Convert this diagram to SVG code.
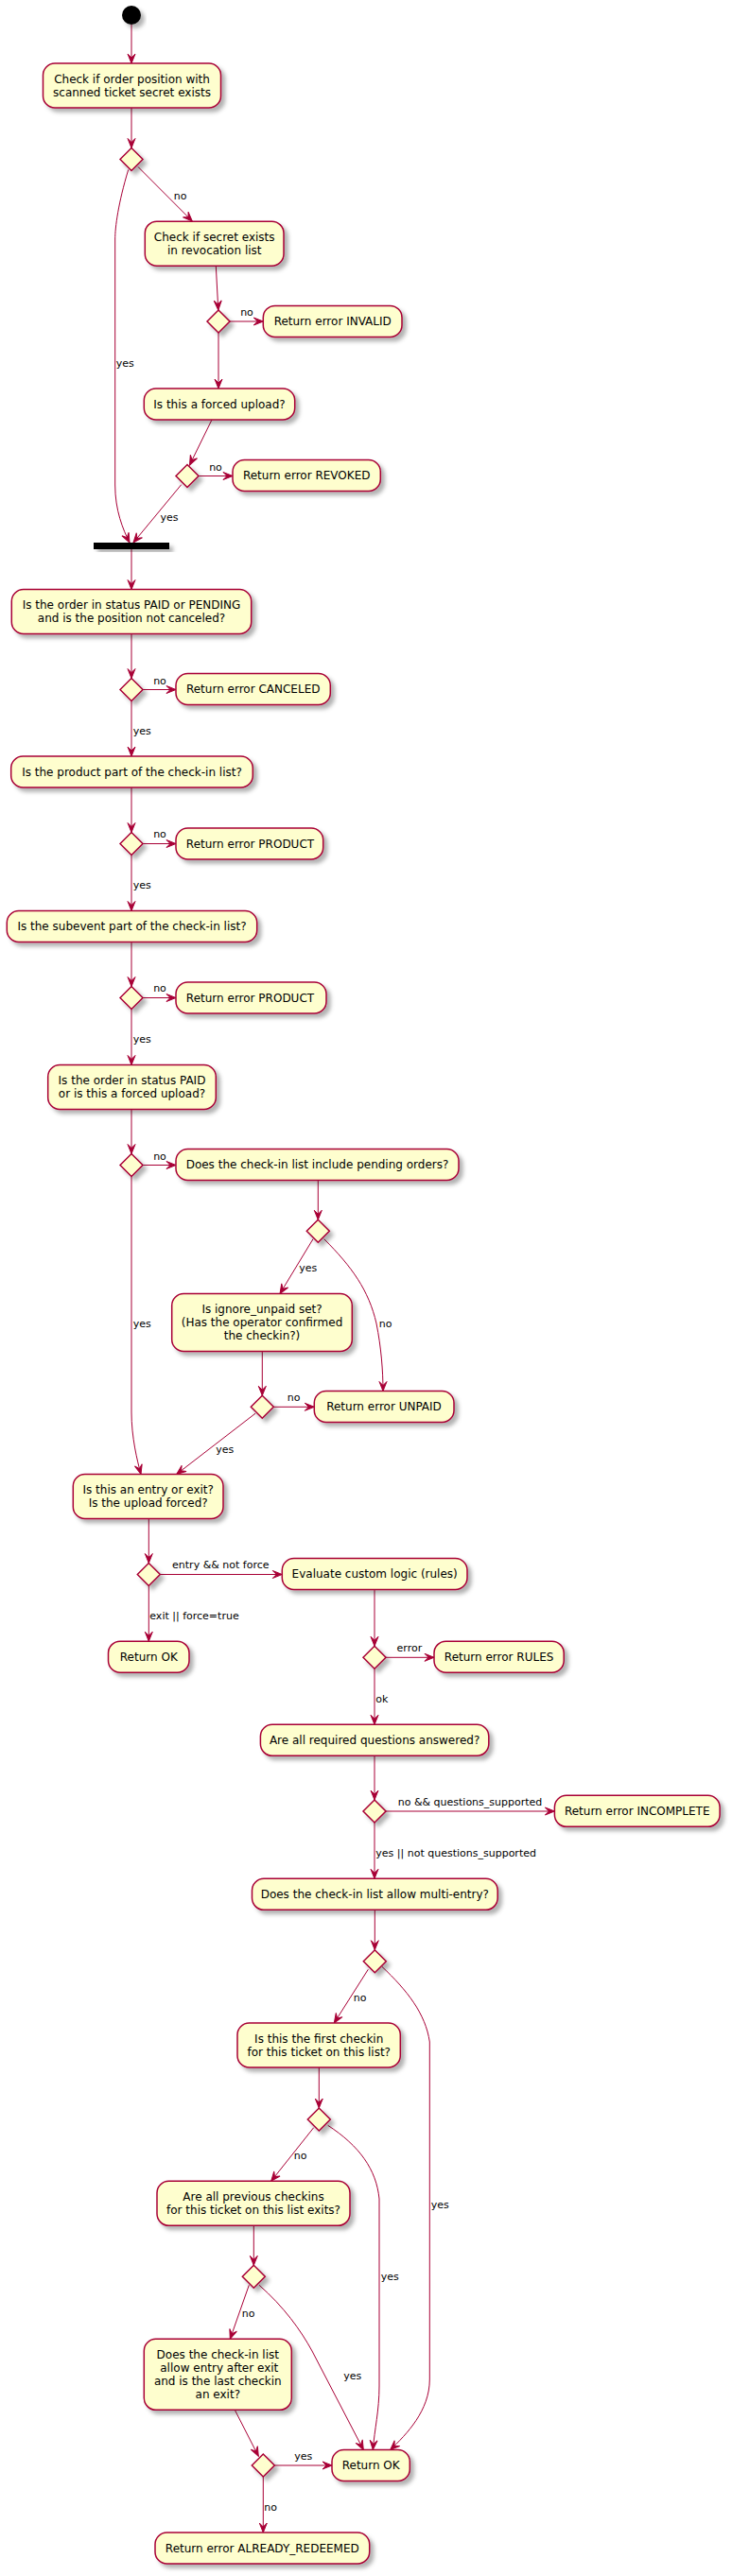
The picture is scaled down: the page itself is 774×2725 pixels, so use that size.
<svg xmlns="http://www.w3.org/2000/svg" width="774" height="2725" viewBox="0 0 774 2725">
<defs>
<filter id="sh" x="-20%" y="-20%" width="150%" height="160%"><feDropShadow dx="4" dy="4" stdDeviation="2" flood-color="#000" flood-opacity="0.3"/></filter>
<marker id="ah" viewBox="-11 -5 12 10" refX="0" refY="0" markerWidth="12" markerHeight="10" orient="auto" markerUnits="userSpaceOnUse"><path d="M-10,-4 L0,0 L-10,4 L-6,0 Z" fill="#A80036" stroke="#A80036" stroke-width="1"/></marker>
<style>
.b{fill:#FEFECE;stroke:#A80036;stroke-width:1.5;filter:url(#sh)}
.t{font-family:"DejaVu Sans","Liberation Sans",sans-serif;font-size:12px;fill:#000;text-anchor:middle}
.l{font-family:"DejaVu Sans","Liberation Sans",sans-serif;font-size:11px;fill:#000}
.m{text-anchor:middle}
.c path{fill:none;stroke:#A80036;stroke-width:1;marker-end:url(#ah)}
</style>
</defs>
<rect width="774" height="2725" fill="#fff"/>
<g class="c" id="connectors">
<path d="M139,26 L139,67"/>
<path d="M139,114 L139,156.5"/>
<path d="M135.7,179.5 C125,215 121.7,240 121.7,253 L121.7,513 C121.7,540 130,560 137,574"/>
<path d="M146,176.5 L203.3,234"/>
<path d="M228.3,281.2 L230.8,328"/>
<path d="M243,340 L278.3,340"/>
<path d="M231,352 L231,411"/>
<path d="M224,444 L200.5,492"/>
<path d="M210,503.5 L246,503.5"/>
<path d="M191.7,512.7 L141,574"/>
<path d="M139,581 L139,623.5"/>
<path d="M139,670.5 L139,717.5"/>
<path d="M151,729.5 L186,729.5"/>
<path d="M139,741.5 L139,800"/>
<path d="M139,833 L139,880.5"/>
<path d="M151,892.5 L186,892.5"/>
<path d="M139,904.5 L139,963.5"/>
<path d="M139,996.5 L139,1043.5"/>
<path d="M151,1055.5 L186,1055.5"/>
<path d="M139,1067.5 L139,1126.5"/>
<path d="M139,1173.5 L139,1220.5"/>
<path d="M151,1232.5 L186,1232.5"/>
<path d="M139,1244.5 L139,1494 C139,1520 145,1545 149,1559.5"/>
<path d="M336.3,1248.5 L336.3,1290.3"/>
<path d="M331,1310.7 L296,1368.5"/>
<path d="M342.7,1310.7 C372,1340 390,1365 398,1400 C403,1425 405,1450 405,1471.5"/>
<path d="M277.3,1429.5 L277.3,1476.3"/>
<path d="M289.3,1488.3 L332.3,1488.3"/>
<path d="M270,1495.2 L186.7,1559.5"/>
<path d="M157.3,1606.5 L157.3,1653.5"/>
<path d="M169.3,1665.5 L298.3,1665.5"/>
<path d="M157.3,1677.5 L157.3,1736.2"/>
<path d="M396,1681.5 L396,1741.3"/>
<path d="M408,1753.3 L459,1753.3"/>
<path d="M396,1765.3 L396,1824.3"/>
<path d="M396,1857.3 L396,1904"/>
<path d="M408,1916 L586.4,1916"/>
<path d="M396,1928 L396,1987.3"/>
<path d="M396.3,2020.3 L396.3,2062.7"/>
<path d="M389.3,2083.3 L353.3,2140"/>
<path d="M404,2080.5 C430,2105 450,2130 454.3,2160 L454.3,2517 C454.3,2550 430,2575 412.7,2591.5"/>
<path d="M337.3,2187 L337.3,2230"/>
<path d="M331.7,2250.7 L286.7,2307.3"/>
<path d="M346.7,2248.3 C380,2270 398,2295 401,2326 L401,2524 C401,2550 396,2570 394.3,2591.5"/>
<path d="M268.3,2354.3 L268.3,2396.3"/>
<path d="M263.3,2417.3 L243.3,2474.3"/>
<path d="M274,2417.3 C300,2440 318,2465 330,2487 L384.3,2591.5"/>
<path d="M248.3,2549.3 L273.3,2598.3"/>
<path d="M290.3,2608 L351,2608"/>
<path d="M278.3,2620 L278.3,2679"/>
</g>
<g id="labels">
<text class="l" x="122.7" y="388">yes</text>
<text class="l m" x="190.7" y="211">no</text>
<text class="l m" x="261" y="334">no</text>
<text class="l m" x="228" y="497.5">no</text>
<text class="l m" x="179" y="551">yes</text>
<text class="l m" x="169" y="723.5">no</text>
<text class="l" x="140.7" y="777">yes</text>
<text class="l m" x="169" y="886">no</text>
<text class="l" x="140.7" y="940">yes</text>
<text class="l m" x="169" y="1049">no</text>
<text class="l" x="140.7" y="1103">yes</text>
<text class="l m" x="169" y="1226.5">no</text>
<text class="l" x="140.7" y="1403.5">yes</text>
<text class="l m" x="325.7" y="1345.3">yes</text>
<text class="l m" x="407.7" y="1403.5">no</text>
<text class="l m" x="310.7" y="1482.3">no</text>
<text class="l m" x="237.7" y="1536.7">yes</text>
<text class="l m" x="233.3" y="1659">entry &amp;&amp; not force</text>
<text class="l" x="158.3" y="1713.4">exit || force=true</text>
<text class="l m" x="432.9" y="1747.3">error</text>
<text class="l" x="397.3" y="1801.3">ok</text>
<text class="l m" x="497" y="1910">no &amp;&amp; questions_supported</text>
<text class="l" x="397.3" y="1964.3">yes || not questions_supported</text>
<text class="l m" x="380.7" y="2117.3">no</text>
<text class="l" x="455.7" y="2335.5">yes</text>
<text class="l m" x="317.7" y="2284">no</text>
<text class="l" x="402.7" y="2412.2">yes</text>
<text class="l m" x="262.7" y="2451.3">no</text>
<text class="l m" x="372.7" y="2516.5">yes</text>
<text class="l m" x="320.7" y="2602.3">yes</text>
<text class="l" x="279.3" y="2656.3">no</text>
</g>
<g id="start"><circle cx="139" cy="16" r="10" fill="#000" filter="url(#sh)"/></g>
<g id="n1"><rect class="b" x="45.5" y="67" width="188" height="47" rx="12.5"/><text class="t" x="139.5" y="87.5">Check if order position with</text><text class="t" x="139.5" y="101.5">scanned ticket secret exists</text></g>
<g id="d1"><polygon class="b" points="127,168.5 139,156.5 151,168.5 139,180.5"/></g>
<g id="n2"><rect class="b" x="153.3" y="234.2" width="146.7" height="47" rx="12.5"/><text class="t" x="226.7" y="254.7">Check if secret exists</text><text class="t" x="226.7" y="268.7">in revocation list</text></g>
<g id="d2"><polygon class="b" points="219,340 231,328 243,340 231,352"/></g>
<g id="n3"><rect class="b" x="278.3" y="323.4" width="146.7" height="33" rx="12.5"/><text class="t" x="351.7" y="343.9">Return error INVALID</text></g>
<g id="n4"><rect class="b" x="152.3" y="411" width="159.4" height="33" rx="12.5"/><text class="t" x="232" y="431.5">Is this a forced upload?</text></g>
<g id="d3"><polygon class="b" points="186,503.5 198,491.5 210,503.5 198,515.5"/></g>
<g id="n5"><rect class="b" x="246" y="486.5" width="156.3" height="33" rx="12.5"/><text class="t" x="324.2" y="507">Return error REVOKED</text></g>
<g id="bar"><rect x="99" y="574" width="80" height="7" fill="#000" filter="url(#sh)"/></g>
<g id="n6"><rect class="b" x="12.3" y="623.5" width="253.4" height="47" rx="12.5"/><text class="t" x="139" y="644">Is the order in status PAID or PENDING</text><text class="t" x="139" y="658">and is the position not canceled?</text></g>
<g id="d4"><polygon class="b" points="127,729.5 139,717.5 151,729.5 139,741.5"/></g>
<g id="n7"><rect class="b" x="186" y="712.5" width="163.3" height="33" rx="12.5"/><text class="t" x="267.7" y="733">Return error CANCELED</text></g>
<g id="n8"><rect class="b" x="11.7" y="800" width="255.6" height="33" rx="12.5"/><text class="t" x="139.5" y="820.5">Is the product part of the check-in list?</text></g>
<g id="d5"><polygon class="b" points="127,892.5 139,880.5 151,892.5 139,904.5"/></g>
<g id="n9"><rect class="b" x="186" y="876" width="155.7" height="33" rx="12.5"/><text class="t" x="264.5" y="896.5">Return error PRODUCT</text></g>
<g id="n10"><rect class="b" x="7.3" y="963.5" width="264.4" height="33" rx="12.5"/><text class="t" x="139.5" y="984">Is the subevent part of the check-in list?</text></g>
<g id="d6"><polygon class="b" points="127,1055.5 139,1043.5 151,1055.5 139,1067.5"/></g>
<g id="n11"><rect class="b" x="186" y="1039" width="159" height="33" rx="12.5"/><text class="t" x="264.5" y="1059.5">Return error PRODUCT</text></g>
<g id="n12"><rect class="b" x="50.7" y="1126.5" width="177.6" height="47" rx="12.5"/><text class="t" x="139.5" y="1147">Is the order in status PAID</text><text class="t" x="139.5" y="1161">or is this a forced upload?</text></g>
<g id="d7"><polygon class="b" points="127,1232.5 139,1220.5 151,1232.5 139,1244.5"/></g>
<g id="n13"><rect class="b" x="186" y="1215.5" width="299" height="33" rx="12.5"/><text class="t" x="335.5" y="1236">Does the check-in list include pending orders?</text></g>
<g id="d8"><polygon class="b" points="324.3,1302.3 336.3,1290.3 348.3,1302.3 336.3,1314.3"/></g>
<g id="n14"><rect class="b" x="181.7" y="1368.5" width="190.6" height="61" rx="12.5"/><text class="t" x="277" y="1389">Is ignore_unpaid set?</text><text class="t" x="277" y="1403">(Has the operator confirmed</text><text class="t" x="277" y="1417">the checkin?)</text></g>
<g id="d9"><polygon class="b" points="265.3,1488.3 277.3,1476.3 289.3,1488.3 277.3,1500.3"/></g>
<g id="n15"><rect class="b" x="332.3" y="1471.5" width="147.7" height="33" rx="12.5"/><text class="t" x="406" y="1492">Return error UNPAID</text></g>
<g id="n16"><rect class="b" x="77.3" y="1559.5" width="158.7" height="47" rx="12.5"/><text class="t" x="156.7" y="1580">Is this an entry or exit?</text><text class="t" x="156.7" y="1594">Is the upload forced?</text></g>
<g id="d10"><polygon class="b" points="145.3,1665.5 157.3,1653.5 169.3,1665.5 157.3,1677.5"/></g>
<g id="n17"><rect class="b" x="298.3" y="1648.5" width="195.7" height="33" rx="12.5"/><text class="t" x="396.2" y="1669">Evaluate custom logic (rules)</text></g>
<g id="n18"><rect class="b" x="114.5" y="1736.2" width="85.5" height="33" rx="12.5"/><text class="t" x="157.3" y="1756.7">Return OK</text></g>
<g id="d11"><polygon class="b" points="384,1753.3 396,1741.3 408,1753.3 396,1765.3"/></g>
<g id="n19"><rect class="b" x="459" y="1736.2" width="137.2" height="33" rx="12.5"/><text class="t" x="527.6" y="1756.7">Return error RULES</text></g>
<g id="n20"><rect class="b" x="275.4" y="1824.3" width="241.4" height="33" rx="12.5"/><text class="t" x="396.1" y="1844.8">Are all required questions answered?</text></g>
<g id="d12"><polygon class="b" points="384,1916 396,1904 408,1916 396,1928"/></g>
<g id="n21"><rect class="b" x="586.4" y="1899.3" width="174.7" height="33" rx="12.5"/><text class="t" x="673.7" y="1919.8">Return error INCOMPLETE</text></g>
<g id="n22"><rect class="b" x="266.5" y="1987.3" width="259.7" height="33" rx="12.5"/><text class="t" x="396.3" y="2007.8">Does the check-in list allow multi-entry?</text></g>
<g id="d13"><polygon class="b" points="384.3,2074.7 396.3,2062.7 408.3,2074.7 396.3,2086.7"/></g>
<g id="n23"><rect class="b" x="251" y="2140" width="172.3" height="47" rx="12.5"/><text class="t" x="337.2" y="2160.5">Is this the first checkin</text><text class="t" x="337.2" y="2174.5">for this ticket on this list?</text></g>
<g id="d14"><polygon class="b" points="325.3,2242 337.3,2230 349.3,2242 337.3,2254"/></g>
<g id="n24"><rect class="b" x="166" y="2307.3" width="204" height="47" rx="12.5"/><text class="t" x="268" y="2327.8">Are all previous checkins</text><text class="t" x="268" y="2341.8">for this ticket on this list exits?</text></g>
<g id="d15"><polygon class="b" points="256.3,2408.3 268.3,2396.3 280.3,2408.3 268.3,2420.3"/></g>
<g id="n25"><rect class="b" x="152.3" y="2474.3" width="156" height="75" rx="12.5"/><text class="t" x="230.3" y="2494.8">Does the check-in list</text><text class="t" x="231.8" y="2508.8">allow entry after exit</text><text class="t" x="230.3" y="2522.8">and is the last checkin</text><text class="t" x="230.3" y="2536.8">an exit?</text></g>
<g id="d16"><polygon class="b" points="266.3,2608 278.3,2596 290.3,2608 278.3,2620"/></g>
<g id="n26"><rect class="b" x="351" y="2591.5" width="82.3" height="33" rx="12.5"/><text class="t" x="392.2" y="2612">Return OK</text></g>
<g id="n27"><rect class="b" x="164" y="2679" width="226.7" height="33" rx="12.5"/><text class="t" x="277.3" y="2699.5">Return error ALREADY_REDEEMED</text></g>
</svg>
